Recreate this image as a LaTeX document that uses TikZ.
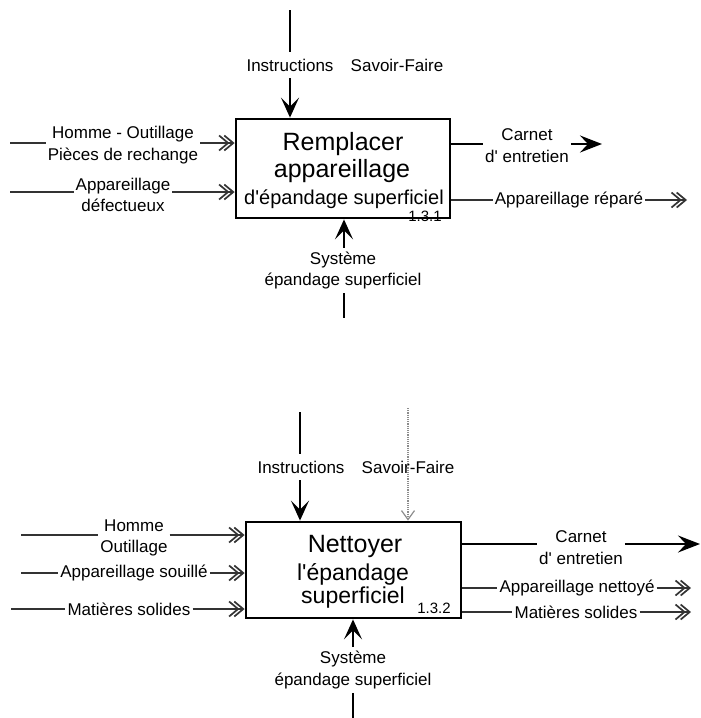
\documentclass[tikz,border=0pt]{standalone}
\usepackage{fontspec}
\setmainfont{Liberation Sans}[Ligatures=TeXOff]
\usetikzlibrary{arrows.meta}
\begin{document}
\begin{tikzpicture}[
  x=1pt,y=-1pt,
  lbl/.style={font=\fontsize{17}{21.5}\selectfont, inner sep=2pt, align=center},
  toplbl/.style={lbl, inner ysep=7pt},
  botlbl/.style={lbl, inner ysep=4pt},
  procbox/.style={draw, line width=2.8pt, inner sep=0pt},
  bigtxt/.style={anchor=base, inner sep=0pt, font=\fontsize{25}{30}\selectfont},
  midtxt/.style={anchor=base, inner sep=0pt, font=\fontsize{23}{28}\selectfont},
  smltxt/.style={anchor=base, inner sep=0pt, font=\fontsize{20}{24}\selectfont},
  numtxt/.style={anchor=base, inner sep=0pt, font=\fontsize{15}{18}\selectfont},
  thickln/.style={line width=2.8pt},
  outln/.style={line width=2.4pt},
  flowln/.style={line width=1.7pt, black!80},
  dotln/.style={line width=1.2pt, black!45, densely dotted},
  vtip/.style={-{Stealth[length=20pt,width=18pt,inset=9pt]}},
  ctip/.style={-{Stealth[length=22pt,width=17pt,inset=8pt]}},
  htip/.style={-{Straight Barb[length=9pt,width=15pt,sep=-6pt] Straight Barb[length=9pt,width=15pt]}},
]
\useasboundingbox (0,0) rectangle (701,718);

% ================= Box 1 =================
\node[procbox, minimum width=214pt, minimum height=99pt] (box1) at (343,168.5) {};
\node[bigtxt] (r1) at (343,150) {Remplacer};
\node[bigtxt] (r2) at (342,177) {appareillage};
\node[smltxt] (r3) at (344,204) {d'épandage superficiel};
\node[numtxt] (n1) at (425,221) {1.3.1};

% top
\coordinate (i1t) at (290,10);
\node[toplbl] (i1) at (290,65) {Instructions};
\draw[thickln] (i1t) -- (i1.north -| i1t);
\draw[thickln,vtip] (i1.south -| i1t) -- (box1.north -| i1t);
\node[lbl] (s1) at (397,65) {Savoir-Faire};

% left
\coordinate (a1) at (10,143);
\node[lbl] (l1) at (123,145) {Homme - Outillage\\Pièces de rechange};
\draw[flowln] (a1) -- (l1.west |- a1);
\draw[flowln,htip] (l1.east |- a1) -- (box1.west |- a1);

\coordinate (a2) at (10,192);
\node[lbl] (l2) at (123,195) {Appareillage\\défectueux};
\draw[flowln] (a2) -- (l2.west |- a2);
\draw[flowln,htip] (l2.east |- a2) -- (box1.west |- a2);

% right
\coordinate (c1e) at (602,144);
\node[lbl] (c1) at (527,145.5) {Carnet\\d' entretien};
\draw[outln] (box1.east |- c1e) -- (c1.west |- c1e);
\draw[outln,ctip] (c1.east |- c1e) -- (c1e);

\coordinate (o1e) at (687,200);
\node[lbl] (o1) at (569,200) {Appareillage réparé};
\draw[flowln] (box1.east |- o1e) -- (o1.west |- o1e);
\draw[flowln,htip] (o1.east |- o1e) -- (o1e);

% bottom
\coordinate (y1b) at (344,318);
\node[botlbl] (y1) at (343,270.5) {Système\\épandage superficiel};
\draw[thickln,vtip] (y1.north -| y1b) -- (box1.south -| y1b);
\draw[thickln] (y1.south -| y1b) -- (y1b);

% ================= Box 2 =================
\node[procbox, minimum width=215pt, minimum height=96pt] (box2) at (353.5,570) {};
\node[bigtxt] (t1) at (355,552) {Nettoyer};
\node[midtxt] (t2) at (353,580) {l'épandage};
\node[midtxt] (t3) at (353,603) {superficiel};
\node[numtxt] (n2) at (434,613) {1.3.2};

% top
\coordinate (i2t) at (300,412);
\node[toplbl] (i2) at (301,467) {Instructions};
\draw[thickln] (i2t) -- (i2.north -| i2t);
\draw[thickln,vtip] (i2.south -| i2t) -- (box2.north -| i2t);
\coordinate (s2t) at (408,408);
\node[lbl] (s2) at (408,467) {Savoir-Faire};
\draw[dotln,-{Straight Barb[length=9pt,width=13pt]}] (s2t) -- (box2.north -| s2t);

% left
\coordinate (a3) at (21,535);
\node[lbl] (l3) at (134,538) {Homme\\Outillage};
\draw[flowln] (a3) -- (l3.west |- a3);
\draw[flowln,htip] (l3.east |- a3) -- (box2.west |- a3);

\coordinate (a4) at (21,573);
\node[lbl] (l4) at (134,573) {Appareillage souillé};
\draw[flowln] (a4) -- (l4.west |- a4);
\draw[flowln,htip] (l4.east |- a4) -- (box2.west |- a4);

\coordinate (a5) at (11,609);
\node[lbl] (l5) at (129,609) {Matières solides};
\draw[flowln] (a5) -- (l5.west |- a5);
\draw[flowln,htip] (l5.east |- a5) -- (box2.west |- a5);

% right
\coordinate (c2e) at (700,544);
\node[lbl] (c2) at (581,547.5) {Carnet\\d' entretien};
\draw[outln] (box2.east |- c2e) -- (c2.west |- c2e);
\draw[outln,ctip] (c2.east |- c2e) -- (c2e);

\coordinate (o2e) at (691,588);
\node[lbl] (o2) at (577,588) {Appareillage nettoyé};
\draw[flowln] (box2.east |- o2e) -- (o2.west |- o2e);
\draw[flowln,htip] (o2.east |- o2e) -- (o2e);

\coordinate (o3e) at (691,612);
\node[lbl] (o3) at (576,612) {Matières solides};
\draw[flowln] (box2.east |- o3e) -- (o3.west |- o3e);
\draw[flowln,htip] (o3.east |- o3e) -- (o3e);

% bottom
\coordinate (y2b) at (353,718);
\node[botlbl] (y2) at (353,670) {Système\\épandage superficiel};
\draw[thickln,vtip] (y2.north -| y2b) -- (box2.south -| y2b);
\draw[thickln] (y2.south -| y2b) -- (y2b);
\end{tikzpicture}
\end{document}
